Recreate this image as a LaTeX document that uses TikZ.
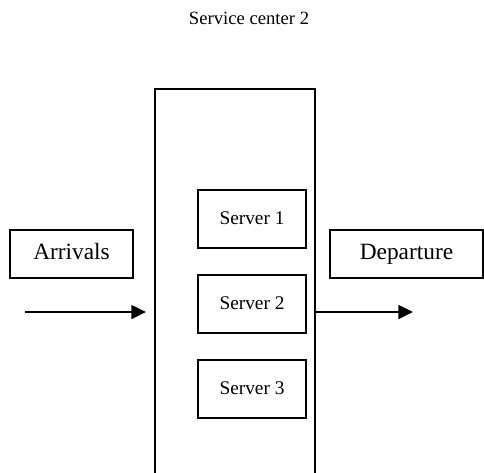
\documentclass[tikz,border=0pt]{standalone}
\usepackage{fontspec}
\setmainfont{Liberation Serif}
\usetikzlibrary{arrows.meta,positioning}
\tikzset{
  srvbox/.style={draw, line width=1.1pt, minimum width=81pt, minimum height=43.5pt,
    inner sep=0pt, text height=10pt, text depth=2pt, font=\fontsize{14.5}{16}\selectfont},
  endbox/.style={draw, line width=0.8pt, minimum height=36pt, inner sep=0pt,
    text height=12pt, text depth=3.5pt, font=\fontsize{17.5}{19}\selectfont},
  flow/.style={line width=1.1pt, -{Triangle[length=11pt,width=10.5pt]}}
}
\begin{document}
\begin{tikzpicture}[x=0.75pt, y=-0.75pt, line join=miter]
\useasboundingbox (0,0) rectangle (484,472);
\clip (0,0) rectangle (484,472);
%\draw[gray!50] (0,0) grid[step=50] (484,472);
\path
(25,312) coordinate (inL)
(413,312) coordinate (outR)
;
\node[font=\fontsize{14}{16}\selectfont] (title) at (249,18) {Service center 2};
\node[draw, line width=1.5pt, minimum width=120pt, minimum height=293pt] (center) at (235,284.5) {};
\foreach \n/\y in {1/219, 2/304, 3/389}
  \node[srvbox] (srv\n) at (252,\y) {Server \n};
\node[endbox, minimum width=92.25pt] (arr) at (71.5,254) {Arrivals};
\node[endbox, minimum width=114.75pt] (dep) at (406.5,254) {Departure};
\draw[flow, shorten >=6pt] (inL) -- (inL -| center.west);
\draw[flow] (outR -| center.east) -- (outR);
\end{tikzpicture}
\end{document}
